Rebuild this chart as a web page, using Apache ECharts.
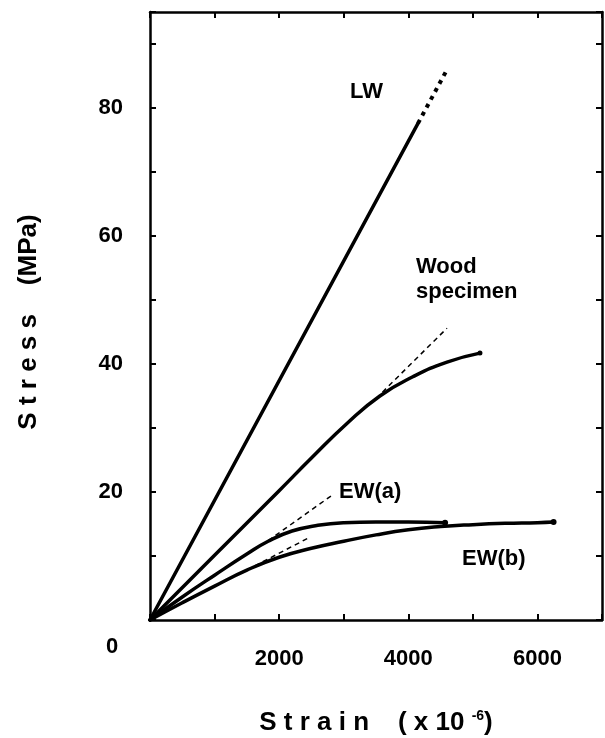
<!DOCTYPE html>
<html>
<head>
<meta charset="utf-8">
<script src="https://cdn.jsdelivr.net/npm/echarts@6/dist/echarts.min.js"></script>
<style>
  html, body { margin: 0; padding: 0; background: #fff; }
  #chart { width: 605px; height: 738px; }
</style>
</head>
<body>
<div id="chart"></div>
<script>
// strain in 10^-6, stress in MPa
const lwStrain = [0, 4150];
const lwStress = [0, 77.6];
const lwExtStrain = [4150, 4600];
const lwExtStress = [77.6, 86];

const woodStrain = [0, 1000, 2000, 2500, 3050, 3560, 4070, 4600, 5110];
const woodStress = [0, 10.1, 20.2, 25.3, 30.7, 35.0, 38.0, 40.3, 41.7];
const woodTanStrain = [3600, 4600];
const woodTanStress = [35.6, 45.6];

const ewaStrain = [0, 500, 1000, 1500, 1830, 2200, 2600, 3000, 3500, 4000, 4570];
const ewaStress = [0, 3.6, 7.0, 10.3, 12.3, 13.9, 14.8, 15.2, 15.3, 15.3, 15.2];
const ewaTanStrain = [1830, 2820];
const ewaTanStress = [12.4, 19.5];

const ewbStrain = [0, 500, 1000, 1500, 2000, 2500, 3000, 3500, 4000, 4500, 5000, 5500, 6000, 6250];
const ewbStress = [0, 2.7, 5.3, 7.8, 9.8, 11.2, 12.3, 13.3, 14.1, 14.6, 14.9, 15.1, 15.2, 15.3];
const ewbTanStrain = [1500, 2450];
const ewbTanStress = [7.8, 12.8];

const xLabels = [2000, 4000, 6000];
const yLabels = [20, 40, 60, 80];

const font = 'Liberation Sans, Arial, sans-serif';

function pairs(xs, ys, endDot) {
    return xs.map((x, i) => {
        const item = { value: [x, ys[i]] };
        if (endDot && i === xs.length - 1) {
            item.symbol = 'circle';
            item.symbolSize = endDot;
        }
        return item;
    });
}

function curve(xs, ys, width, endDot) {
    return {
        type: 'line',
        data: pairs(xs, ys, endDot),
        smooth: 0.5,
        symbol: 'none',
        showSymbol: true,
        itemStyle: { color: '#000' },
        lineStyle: { color: '#000', width: width, cap: 'round' },
        silent: true
    };
}

function dashed(xs, ys) {
    return {
        type: 'line',
        data: pairs(xs, ys),
        symbol: 'none',
        lineStyle: { color: '#000', width: 1.5, type: [5, 4] },
        silent: true
    };
}

const chart = echarts.init(document.getElementById('chart'));

const axisLine = { show: true, onZero: false, lineStyle: { color: '#000', width: 2.5 } };
const tickIn = { show: true, inside: true, length: 6, lineStyle: { color: '#000', width: 2 } };

chart.setOption({
    backgroundColor: '#fff',
    animation: false,
    grid: { left: 150, right: 3, top: 12, bottom: 118, containLabel: false, outerBoundsMode: 'none' },
    xAxis: [{
        type: 'value', min: 0, max: 7000, interval: 1000,
        axisLine: axisLine, axisTick: tickIn, splitLine: { show: false },
        axisLabel: {
            margin: 28, fontSize: 22, fontWeight: 'bold', color: '#000', fontFamily: font,
            formatter: v => xLabels.includes(v) ? String(v) : ''
        },
        name: '{a|S t r a i n    ( x 10 }{s|-6}{a|)}',
        nameLocation: 'middle', nameGap: 89,
        nameTextStyle: {
            rich: {
                a: { fontSize: 26, fontWeight: 'bold', color: '#000', fontFamily: font },
                s: { fontSize: 14, fontWeight: 'bold', color: '#000', fontFamily: font, padding: [0, 0, 14, 0] }
            }
        }
    }, {
        type: 'value', min: 0, max: 7000, interval: 1000, position: 'top',
        axisLine: axisLine, axisTick: tickIn, axisLabel: { show: false }, splitLine: { show: false }
    }],
    yAxis: [{
        type: 'value', min: 0, max: 95, interval: 10,
        axisLine: axisLine, axisTick: tickIn, splitLine: { show: false },
        axisLabel: {
            margin: 27, fontSize: 22, fontWeight: 'bold', color: '#000', fontFamily: font,
            formatter: v => yLabels.includes(v) ? String(v) : ''
        },
        name: 'S t r e s s    (MPa)',
        nameLocation: 'middle', nameGap: 108, nameRotate: 90,
        nameTextStyle: { fontSize: 26, fontWeight: 'bold', color: '#000', fontFamily: font, padding: [0, 12, 0, 0] }
    }, {
        type: 'value', min: 0, max: 95, interval: 10, position: 'right',
        axisLine: axisLine, axisTick: tickIn, axisLabel: { show: false }, splitLine: { show: false }
    }],
    series: [
        curve(lwStrain, lwStress, 3.5),
        {
            type: 'line',
            data: pairs(lwExtStrain, lwExtStress),
            symbol: 'none',
            lineStyle: { color: '#000', width: 4, type: [4, 5] },
            silent: true
        },
        curve(woodStrain, woodStress, 3.5, 5),
        dashed(woodTanStrain, woodTanStress),
        curve(ewaStrain, ewaStress, 3.5, 6),
        dashed(ewaTanStrain, ewaTanStress),
        curve(ewbStrain, ewbStress, 3.5, 6),
        dashed(ewbTanStrain, ewbTanStress)
    ],
    graphic: [
        { type: 'text', left: 350, top: 81, style: { text: 'LW', font: 'bold 22px ' + font, fill: '#000' } },
        { type: 'text', left: 416, top: 256, style: { text: 'Wood', font: 'bold 22px ' + font, fill: '#000' } },
        { type: 'text', left: 416, top: 281, style: { text: 'specimen', font: 'bold 22px ' + font, fill: '#000' } },
        { type: 'text', left: 339, top: 481, style: { text: 'EW(a)', font: 'bold 22px ' + font, fill: '#000' } },
        { type: 'text', left: 462, top: 548, style: { text: 'EW(b)', font: 'bold 22px ' + font, fill: '#000' } },
        { type: 'text', left: 106, top: 636, style: { text: '0', font: 'bold 22px ' + font, fill: '#000' } }
    ]
});
</script>
</body>
</html>
